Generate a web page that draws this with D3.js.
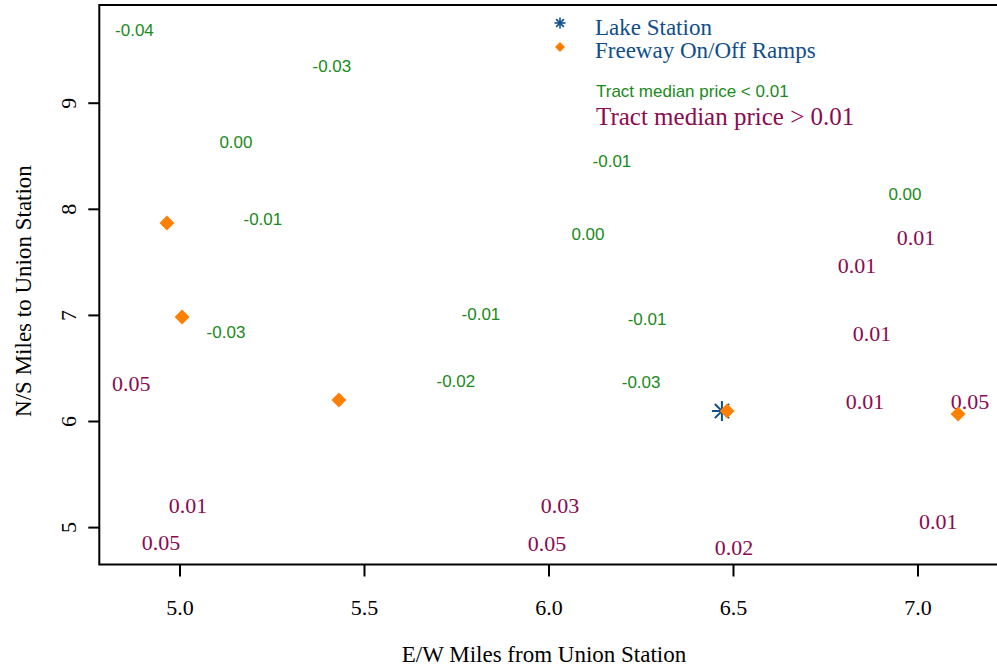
<!DOCTYPE html>
<html>
<head>
<meta charset="utf-8">
<script src="https://cdn.jsdelivr.net/npm/d3@7/dist/d3.min.js"></script>
<style>
  html, body { margin: 0; padding: 0; background: #fff; }
  svg { display: block; }
</style>
</head>
<body>
<svg id="chart" width="997" height="668"></svg>
<script>
// Tracts with median price change below 0.01 (green labels)
const lowX = [4.878, 5.413, 5.153, 6.172, 6.966, 5.226, 6.107, 5.817, 6.267, 5.126, 5.749, 6.251];
const lowY = [9.685, 9.346, 8.630, 8.451, 8.139, 7.904, 7.763, 7.008, 6.961, 6.839, 6.377, 6.368];
const lowVal = [-0.04, -0.03, 0.00, -0.01, 0.00, -0.01, 0.00, -0.01, -0.01, -0.03, -0.02, -0.03];

// Tracts with median price change above 0.01 (purple labels)
const highX = [6.996, 6.836, 6.877, 4.869, 6.858, 7.142, 6.031, 5.023, 7.056, 4.950, 5.996, 6.503];
const highY = [7.734, 7.461, 6.829, 6.358, 6.188, 6.188, 5.208, 5.199, 5.048, 4.850, 4.841, 4.803];
const highVal = [0.01, 0.01, 0.01, 0.05, 0.01, 0.05, 0.03, 0.01, 0.01, 0.05, 0.05, 0.02];

// Freeway on/off ramps
const rampX = [4.966, 5.007, 5.432, 6.484, 7.110];
const rampY = [7.866, 6.980, 6.198, 6.094, 6.066];

// Lake Station
const stationX = [6.470];
const stationY = [6.094];

const xTicks = [5.0, 5.5, 6.0, 6.5, 7.0];
const yTicks = [5, 6, 7, 8, 9];

const legendItems = ["Lake Station", "Freeway On/Off Ramps"];
const legendNotes = ["Tract median price < 0.01", "Tract median price > 0.01"];

const GREEN = "#1a8a1a";
const PURPLE = "#8b0a50";
const BLUE = "#104e8b";
const ORANGE = "#ff7f00";
const SERIF = "'Liberation Serif', 'Times New Roman', serif";
const SANS = "'Liberation Sans', Arial, sans-serif";

const svg = d3.select("#chart");
const plot = { left: 99.3, top: 5, right: 1010, bottom: 564.5 };

const x = d3.scaleLinear().domain([4.7827, 7.2507]).range([plot.left, plot.right]);
const y = d3.scaleLinear().domain([4.6475, 9.921]).range([plot.bottom, plot.top]);

// ASCII hyphen for negative numbers
const locale = d3.formatLocale({ decimal: ".", thousands: ",", grouping: [3], currency: ["$", ""], minus: "-" });
const fmt = locale.format(".2f");

// Plot frame (extends past the right edge of the canvas)
svg.append("rect")
  .attr("x", plot.left).attr("y", plot.top)
  .attr("width", plot.right - plot.left).attr("height", plot.bottom - plot.top)
  .attr("fill", "none").attr("stroke", "#000").attr("stroke-width", 2);

// X axis
const xAxis = svg.append("g")
  .attr("transform", `translate(0,${plot.bottom})`)
  .call(d3.axisBottom(x).tickValues(xTicks).tickFormat(d3.format(".1f")).tickSize(12).tickPadding(23));
xAxis.select(".domain").remove();
xAxis.selectAll("line").attr("stroke", "#000").attr("stroke-width", 2);
xAxis.selectAll("text").attr("font-family", SERIF).attr("font-size", 22).attr("fill", "#000");

// Y axis
const yAxis = svg.append("g")
  .attr("transform", `translate(${plot.left},0)`)
  .call(d3.axisLeft(y).tickValues(yTicks).tickFormat(d3.format("d")).tickSize(11));
yAxis.select(".domain").remove();
yAxis.selectAll("line").attr("stroke", "#000").attr("stroke-width", 2);
yAxis.selectAll("text")
  .attr("font-family", SERIF).attr("font-size", 22).attr("fill", "#000")
  .attr("x", null).attr("dy", null)
  .attr("text-anchor", "middle")
  .attr("transform", "translate(-23,0) rotate(-90)");

// Axis titles
svg.append("text")
  .attr("x", 544).attr("y", 662)
  .attr("text-anchor", "middle")
  .attr("font-family", SERIF).attr("font-size", 23)
  .text("E/W Miles from Union Station");

svg.append("text")
  .attr("transform", "translate(31,291) rotate(-90)")
  .attr("text-anchor", "middle")
  .attr("font-family", SERIF).attr("font-size", 23)
  .text("N/S Miles to Union Station");

// Low-change tract labels
svg.append("g").selectAll("text")
  .data(lowVal.map((v, i) => ({ x: lowX[i], y: lowY[i], v })))
  .join("text")
  .attr("x", d => x(d.x)).attr("y", d => y(d.y))
  .attr("dy", "0.36em")
  .attr("text-anchor", "middle")
  .attr("font-family", SANS).attr("font-size", 17)
  .attr("fill", GREEN)
  .text(d => fmt(d.v));

// High-change tract labels
svg.append("g").selectAll("text")
  .data(highVal.map((v, i) => ({ x: highX[i], y: highY[i], v })))
  .join("text")
  .attr("x", d => x(d.x)).attr("y", d => y(d.y))
  .attr("dy", "0.34em")
  .attr("text-anchor", "middle")
  .attr("font-family", SERIF).attr("font-size", 22)
  .attr("fill", PURPLE)
  .text(d => fmt(d.v));

// Asterisk symbol (plus and cross combined)
function asterisk(g, cx, cy, r, w) {
  const d = r * Math.SQRT1_2;
  const segs = [[-r, 0, r, 0], [0, -r, 0, r], [-d, -d, d, d], [-d, d, d, -d]];
  g.selectAll(null).data(segs).join("line")
    .attr("x1", s => cx + s[0]).attr("y1", s => cy + s[1])
    .attr("x2", s => cx + s[2]).attr("y2", s => cy + s[3])
    .attr("stroke", BLUE).attr("stroke-width", w);
}

// Lake Station
const stationG = svg.append("g");
stationX.forEach((sx, i) => asterisk(stationG, x(sx), y(stationY[i]), 10, 2));

// Ramps
const diamond = d3.symbol().type(d3.symbolSquare).size(110);
svg.append("g").selectAll("path")
  .data(rampX.map((rx, i) => ({ x: rx, y: rampY[i] })))
  .join("path")
  .attr("d", diamond)
  .attr("transform", d => `translate(${x(d.x)},${y(d.y)}) rotate(45)`)
  .attr("fill", ORANGE);

// Legend
const leg = svg.append("g");
asterisk(leg.append("g"), 560, 23, 5.5, 1.6);
leg.append("path")
  .attr("d", d3.symbol().type(d3.symbolSquare).size(50))
  .attr("transform", "translate(560,47) rotate(45)")
  .attr("fill", ORANGE);
leg.selectAll("text.item").data(legendItems).join("text")
  .attr("class", "item")
  .attr("x", 595).attr("y", (d, i) => 35 + i * 23)
  .attr("font-family", SERIF).attr("font-size", 23)
  .attr("fill", BLUE)
  .text(d => d);
leg.append("text")
  .attr("x", 596).attr("y", 97)
  .attr("font-family", SANS).attr("font-size", 17)
  .attr("fill", GREEN)
  .text(legendNotes[0]);
leg.append("text")
  .attr("x", 596).attr("y", 125)
  .attr("font-family", SERIF).attr("font-size", 25)
  .attr("fill", PURPLE)
  .text(legendNotes[1]);
</script>
</body>
</html>
